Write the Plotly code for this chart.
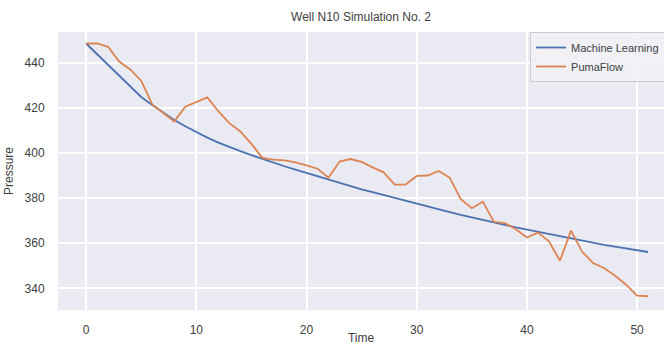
import plotly.graph_objects as go

# Time steps and pressure series
time = list(range(52))

machine_learning = [
    448.5, 443.8, 439.2, 434.5, 429.5, 424.8, 421.2, 417.8, 414.6, 411.8,
    409.2, 406.8, 404.6, 402.6, 400.8, 399.0, 397.3, 395.7, 394.1, 392.6,
    391.1, 389.6, 388.1, 386.7, 385.3, 383.9, 382.6, 381.3, 380.0, 378.7,
    377.4, 376.2, 375.0, 373.8, 372.6, 371.4, 370.3, 369.2, 368.1, 367.0,
    366.0, 365.0, 364.0, 363.0, 362.0, 361.1, 360.2, 359.3, 358.5, 357.7,
    356.9, 356.1,
]

pumaflow = [
    448.5, 448.5, 447.0, 440.5, 437.0, 432.0, 421.5, 417.6, 414.0, 420.5,
    422.5, 424.6, 418.5, 413.2, 409.5, 404.0, 397.8, 397.0, 396.7, 395.8,
    394.5, 393.0, 389.0, 396.2, 397.3, 396.0, 393.6, 391.4, 386.0, 386.0,
    389.8, 390.0, 392.0, 389.0, 379.5, 375.5, 378.4, 369.5, 368.9, 366.2,
    362.5, 364.7, 360.8, 352.2, 365.6, 356.3, 351.2, 349.0, 345.6, 341.6,
    336.8, 336.5,
]

x_ticks = [0, 10, 20, 30, 40, 50]
y_ticks = [340, 360, 380, 400, 420, 440]

BLUE = "#4C72B0"
ORANGE = "#DD8452"
TEXT = "#404040"
FONT = "Liberation Sans, Arial, sans-serif"

fig = go.Figure()
fig.add_trace(go.Scatter(x=time, y=machine_learning, mode="lines",
                         name="Machine Learning",
                         line=dict(color=BLUE, width=1.8)))
fig.add_trace(go.Scatter(x=time, y=pumaflow, mode="lines",
                         name="PumaFlow",
                         line=dict(color=ORANGE, width=1.8)))

fig.update_layout(
    width=664, height=345,
    margin=dict(l=58, r=0, t=31.5, b=34.6, autoexpand=False),
    paper_bgcolor="white",
    plot_bgcolor="#EAEAF2",
    font=dict(family=FONT, size=12, color=TEXT),
    title=dict(text="Well N10 Simulation No. 2", x=0.5, xref="paper",
               xanchor="center", y=0.95, yref="container", yanchor="middle",
               font=dict(size=12, color=TEXT)),
    showlegend=True,
    legend=dict(x=0.779, y=1.0, xanchor="left", yanchor="top",
                bgcolor="rgba(241,241,246,0.85)", bordercolor="#CCCCCC",
                borderwidth=1, font=dict(size=11, color=TEXT),
                itemwidth=30, tracegroupgap=0),
)

fig.update_xaxes(
    range=[-2.55, 52.44], tickvals=x_ticks,
    showgrid=True, gridcolor="white", gridwidth=1.5,
    zeroline=False, showline=False,
    ticks="outside", ticklen=9, tickcolor="rgba(0,0,0,0)",
    title=dict(text="Time", standoff=7, font=dict(size=12, color=TEXT)),
)
fig.update_yaxes(
    range=[330.4, 453.6], tickvals=y_ticks,
    showgrid=True, gridcolor="white", gridwidth=1.5,
    zeroline=False, showline=False,
    ticks="outside", ticklen=10, tickcolor="rgba(0,0,0,0)",
    title=dict(text="Pressure", standoff=8, font=dict(size=12, color=TEXT)),
)

fig.write_html("out.html")
